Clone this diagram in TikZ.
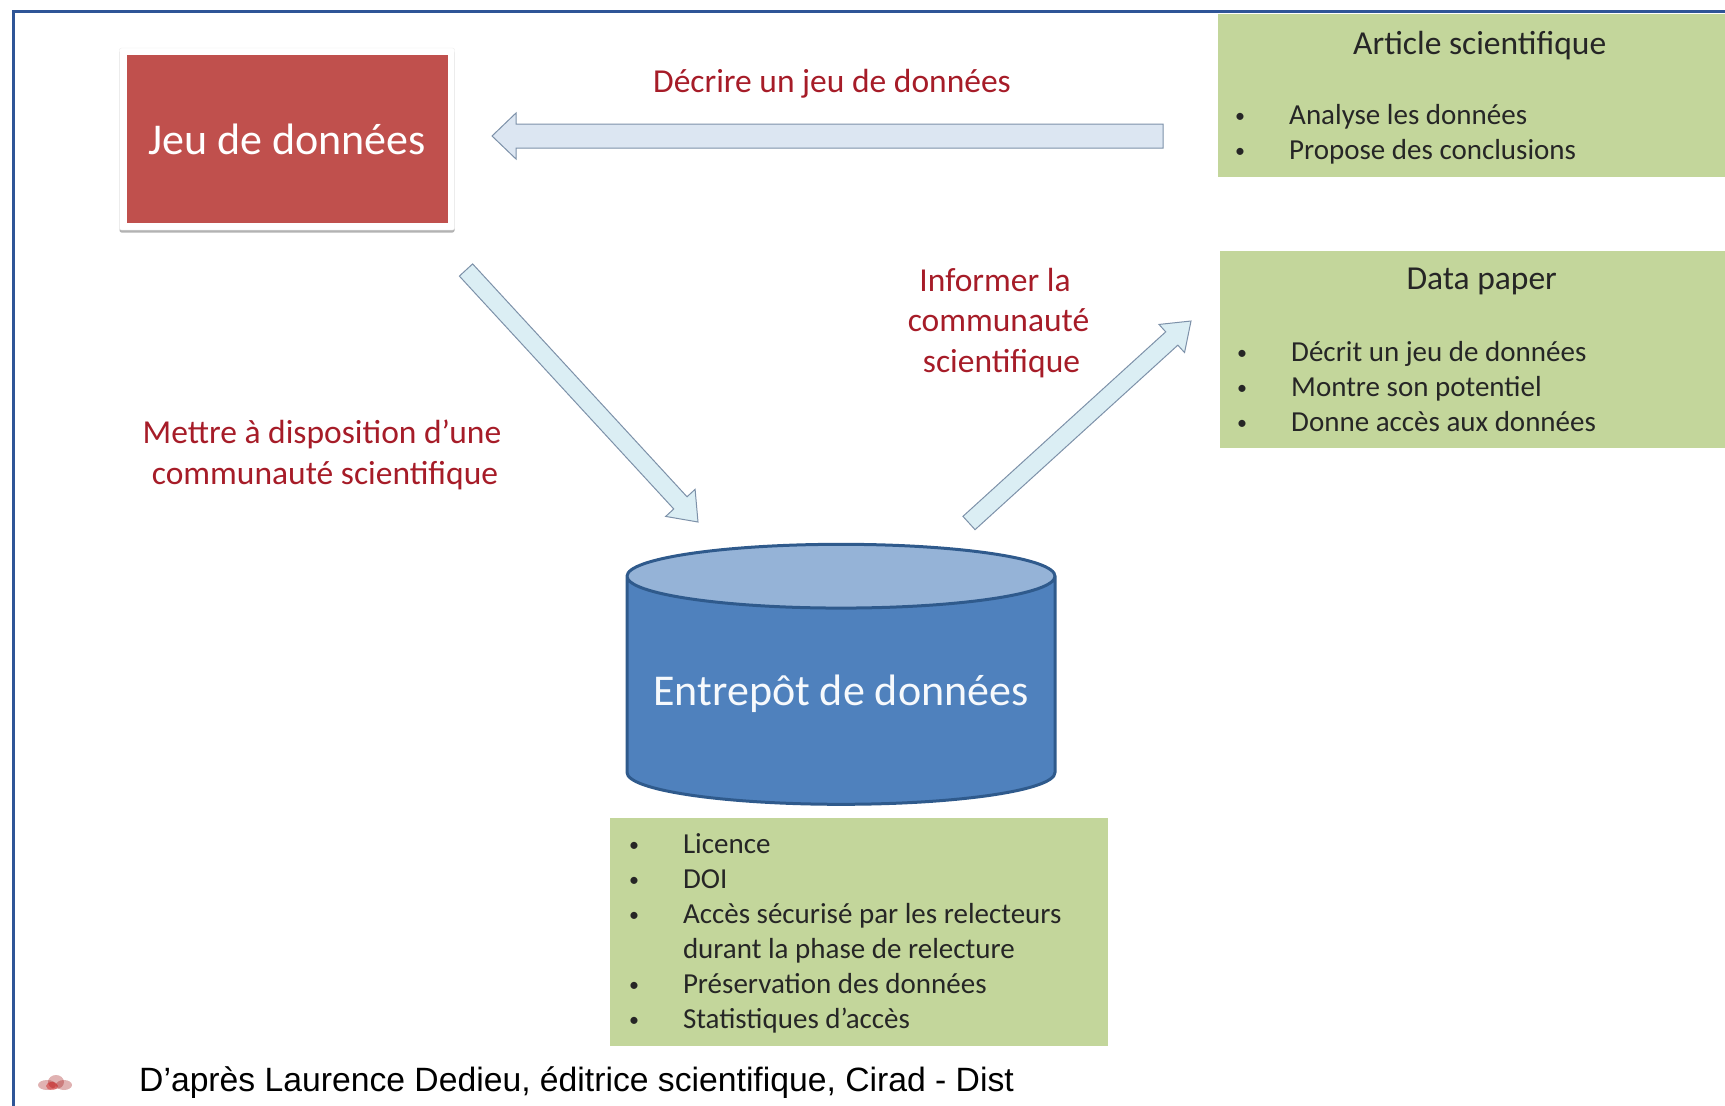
\documentclass[tikz,border=0pt]{standalone}
\usepackage{fontspec}
\setmainfont{Carlito}
\newfontfamily\footfont{Liberation Sans}
\usetikzlibrary{positioning,calc,shadows,shapes.geometric}

\definecolor{c_frame}{HTML}{2F5597}
\definecolor{c_green}{HTML}{C3D69B}
\definecolor{c_red}{HTML}{C0504D}
\definecolor{c_label}{HTML}{A61C28}
\definecolor{c_blue}{HTML}{4F81BD}
\definecolor{c_top}{HTML}{95B3D7}
\definecolor{c_edge}{HTML}{2F5A8C}
\definecolor{c_arrow}{HTML}{DCE6F2}
\definecolor{c_diag}{HTML}{DBEEF4}

% fill, shaft half width, head half width, head length
\newcommand{\blockarrow}[6]{%
	\coordinate (hb) at ($(#2)!#5!(#1)$);
	\draw[n_arrow,fill=#6] ($(#1)!#3!90:(#2)$) -- ($(hb)!#3!90:(#2)$) -- ($(hb)!#4!90:(#2)$) -- (#2)
		-- ($(hb)!#4!-90:(#2)$) -- ($(hb)!#3!-90:(#2)$) -- ($(#1)!#3!-90:(#2)$) -- cycle;
}
\newcommand{\bul}{\makebox[49pt][l]{\hspace*{-5pt}\raisebox{2pt}{\fontsize{20}{20}\selectfont\textbullet}}}

\begin{document}
\begin{tikzpicture}[
	x=1pt,y=-1pt,
	n_box/.style={
		rectangle,
		fill=c_green,
		inner sep=0pt,
		anchor=north west,
		},
	n_title/.style={
		font=\fontsize{33.5}{36}\selectfont,
		text=black!85,
		inner sep=0pt,
		},
	n_list/.style={
		font=\fontsize{29}{35}\selectfont,
		text=black!85,
		align=left,
		inner sep=0pt,
		},
	n_label/.style={
		font=\fontsize{33.5}{40.6}\selectfont,
		text=c_label,
		align=center,
		inner sep=0pt,
		},
	n_arrow/.style={
		draw=black!20!c_edge!60,
		line width=1pt,
		},
	]

	\useasboundingbox (0,0) rectangle (1725,1106);
	\draw[c_frame,line width=3pt] (13,1106) -- (13,11) -- (1725,11);

	% Jeu de donnees
	\node(jeu_bg)[rectangle,fill=white,draw=black!8,rounded corners=2pt,minimum width=335pt,minimum height=182pt,
		inner sep=0pt,drop shadow={shadow xshift=0pt,shadow yshift=-2.5pt,fill=black!50,opacity=.6}] at (287,139){};
	\node(jeu)[rectangle,fill=c_red,minimum width=321pt,minimum height=168pt,inner sep=0pt,text=white,
		font=\fontsize{44}{50}\selectfont] at (287,139){Jeu de données};

	% Entrepot
	\node(entrepot)[cylinder,shape border rotate=90,aspect=.17,minimum width=428pt,minimum height=260pt,
		draw=c_edge,line width=3pt,cylinder uses custom fill,cylinder body fill=c_blue,cylinder end fill=c_top,
		inner sep=0pt,text=white!95!c_blue,text height=37pt,text depth=9pt,
		font=\fontsize{44}{50}\selectfont] at (841,691){Entrepôt de données};
	\node(depot)[n_box,minimum width=498pt,minimum height=228pt,below=12pt of entrepot.south,xshift=18pt,anchor=north]{};
	\node(depot_list)[n_list,below right=16pt and 24pt of depot.north west]{%
		\bul Licence\\
		\bul DOI\\
		\bul Accès sécurisé par les relecteurs\\
		\hspace*{49pt}durant la phase de relecture\\
		\bul Préservation des données\\
		\bul Statistiques d’accès};

	% Article scientifique
	\node(article)[n_box,minimum width=507pt,minimum height=163pt] at (1218,14){};
	\node(article_title)[n_title,below=17pt of article.north,xshift=8pt]{Article scientifique};
	\node(article_list)[n_list,below right=90pt and 22pt of article.north west]{%
		\bul Analyse les données\\
		\bul Propose des conclusions};

	% Data paper
	\node(data)[n_box,minimum width=505pt,minimum height=197pt] at (1220,251){};
	\node(data_title)[n_title,below=17pt of data.north,xshift=9pt]{Data paper};
	\node(data_list)[n_list,below right=90pt and 22pt of data.north west]{%
		\bul Décrit un jeu de données\\
		\bul Montre son potentiel\\
		\bul Donne accès aux données};

	% labels
	\node(decrire)[n_label] at (832,84){Décrire un jeu de données};
	\node(mettre)[n_label] at (322,455){Mettre à disposition d’une\\\hspace*{6pt}communauté scientifique};
	\node(informer)[n_label] at (998.5,323){\hspace*{-7pt}Informer la\\communauté\\\hspace*{6pt}scientifique};
	\node(footer)[inner sep=0pt,anchor=west,font=\footfont\fontsize{33.7}{38}\selectfont] at (139,1083)
		{D’après Laurence Dedieu, éditrice scientifique, Cirad - Dist};

	% arrows
	\coordinate (article_out) at (1163,136);
	\coordinate (jeu_in) at (492,136);
	\coordinate (jeu_out) at (466,270);
	\coordinate (entrepot_in) at (698,522);
	\coordinate (entrepot_out) at (969,523);
	\coordinate (data_in) at (1191,321);
	\blockarrow{article_out}{jeu_in}{12pt}{23pt}{24pt}{c_arrow}
	\blockarrow{jeu_out}{entrepot_in}{9pt}{20pt}{26pt}{c_diag}
	\blockarrow{entrepot_out}{data_in}{9pt}{19pt}{26pt}{c_diag}

	% logo
	\fill[red!60!black,opacity=.3] (47,1085) ellipse (9pt and 5pt);
	\fill[red!60!black,opacity=.3] (56,1082) ellipse (8pt and 7pt);
	\fill[red!60!black,opacity=.3] (64,1085) ellipse (8pt and 5pt);
	\fill[red!80!black,opacity=.4] (52,1086) ellipse (6pt and 4pt);

\end{tikzpicture}
\end{document}
